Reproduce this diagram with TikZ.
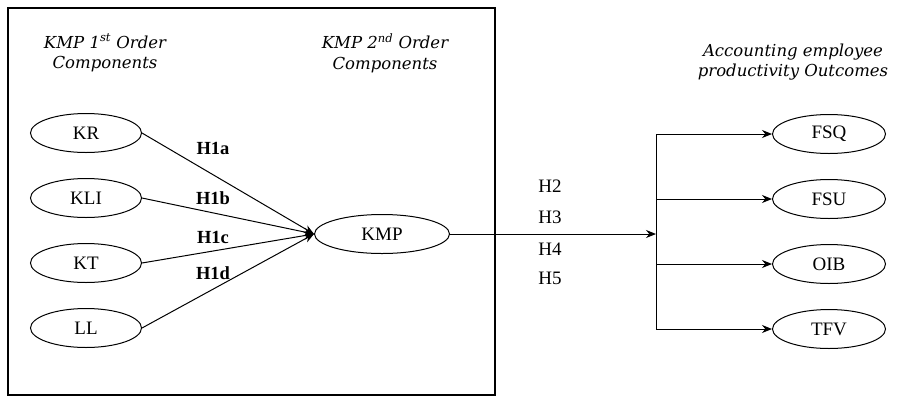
\documentclass[tikz,border=0pt]{standalone}
\usepackage{fontspec}
\setmainfont{Liberation Serif}
\newfontfamily\ttlfont{DejaVu Serif}
\usetikzlibrary{arrows.meta,positioning,shapes.geometric}

\begin{document}
\begin{tikzpicture}[x=1pt, y=-1pt,
    comp/.style={draw, ellipse, line width=1pt, minimum width=111pt,
      minimum height=39pt, inner sep=0pt, font=\fontsize{19}{21}\selectfont},
    ttl/.style={align=center, font=\ttlfont\fontsize{16.5}{20.5}\selectfont\itshape},
    hyp/.style={font=\fontsize{19}{21}\selectfont},
    hypb/.style={font=\fontsize{18.5}{21}\selectfont\bfseries},
    link/.style={line width=1pt, -{Stealth[length=10pt, width=8pt]}},
  ]
  \useasboundingbox (0,0) rectangle (899,397);

  % Frame round the KMP part
  \draw[line width=1.3pt] (8,8) rectangle (495,395);

  % Headings
  \node[ttl] (t1) at (105,53) {KMP 1\textsuperscript{st} Order\\Components};
  \node[ttl] (t2) at (385,53) {KMP 2\textsuperscript{nd} Order\\Components};
  \node[ttl] (t3) at (793,62) {Accounting employee\\productivity Outcomes};

  % Left: first order components
  \node[comp] (kr)  at (86,133) {KR};
  \node[comp] (kli) at (86,198) {KLI};
  \node[comp] (kt)  at (86,263) {KT};
  \node[comp] (ll)  at (86,328) {LL};

  % Middle: second order component
  \node[comp, minimum width=135pt] (kmp) at (382,234) {KMP};
  \coordinate (hub) at (kmp.west);

  \draw[link] (kr.east)  -- (hub);
  \draw[link] (kli.east) -- (hub);
  \draw[link] (kt.east)  -- (hub);
  \draw[link] (ll.east)  -- (hub);

  \node[hypb] (h1a) at (213,148) {H1a};
  \node[hypb] (h1b) at (213,198) {H1b};
  \node[hypb] (h1c) at (213,237) {H1c};
  \node[hypb] (h1d) at (213,273) {H1d};

  % Right: outcomes
  \node[comp, minimum width=113pt] (fsq) at (829,134) {FSQ};
  \node[comp, minimum width=113pt] (fsu) at (829,199) {FSU};
  \node[comp, minimum width=113pt] (oib) at (829,264) {OIB};
  \node[comp, minimum width=113pt] (tfv) at (829,329) {TFV};

  \coordinate (split) at (656,234);
  \draw[link] (kmp.east) -- (split);
  \draw[line width=1pt] (split |- fsq) -- (split |- tfv);
  \foreach \o in {fsq,fsu,oib,tfv} {
    \draw[link] (split |- \o) -- (\o.west);
  }

  \node[hyp] (h2) at (550,186) {H2};
  \node[hyp] (h3) at (550,217) {H3};
  \node[hyp] (h4) at (550,249) {H4};
  \node[hyp] (h5) at (550,278) {H5};

\end{tikzpicture}
\end{document}
